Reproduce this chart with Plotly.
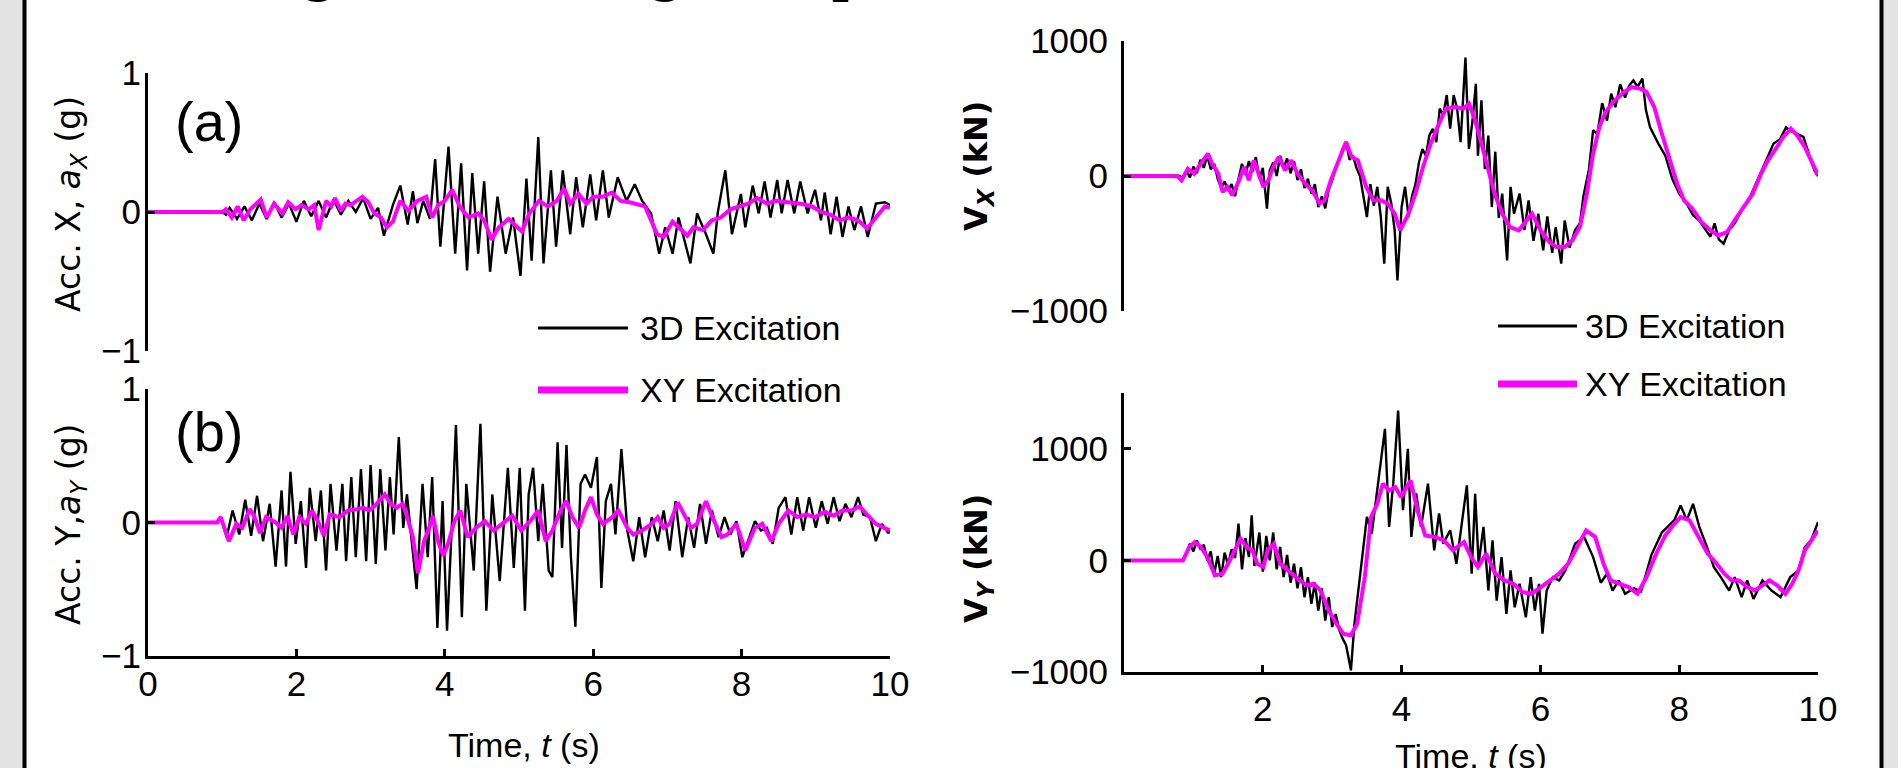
import plotly.graph_objects as go

W, H = 1898, 768

# ---------------- data ----------------
# (time s, acceleration g) – panel (a), X direction
ACC_X_3D = [(0, 0), (1.0, 0), (1.05, -0.02), (1.1, 0.03), (1.2, -0.05), (1.3, 0.04), (1.4, -0.06), (1.5, 0.06),
            (1.6, -0.05), (1.7, 0.07), (1.8, -0.04), (1.9, 0.06), (2.0, -0.07), (2.1, 0.08), (2.2, -0.03),
            (2.3, 0.08), (2.4, -0.04), (2.5, 0.09), (2.6, -0.02), (2.7, 0.08), (2.8, 0.0), (2.9, 0.10),
            (3.0, -0.05), (3.1, 0.03), (3.18, -0.17), (3.3, 0.05), (3.4, 0.19), (3.5, -0.09), (3.57, 0.15),
            (3.63, -0.08), (3.71, 0.08), (3.8, -0.05), (3.87, 0.38), (3.94, -0.25), (4.05, 0.47), (4.14, -0.30),
            (4.22, 0.35), (4.30, -0.42), (4.37, 0.28), (4.45, -0.30), (4.53, 0.22), (4.61, -0.43), (4.71, 0.11),
            (4.82, -0.30), (4.92, -0.04), (5.02, -0.46), (5.10, 0.24), (5.17, -0.35), (5.26, 0.54), (5.33, -0.37),
            (5.43, 0.30), (5.50, -0.25), (5.59, 0.30), (5.69, -0.16), (5.77, 0.25), (5.86, -0.11), (5.96, 0.27),
            (6.04, -0.06), (6.13, 0.30), (6.21, -0.04), (6.33, 0.25), (6.45, 0.08), (6.56, 0.20), (6.66, 0.08),
            (6.78, -0.01), (6.89, -0.30), (6.97, -0.11), (7.07, -0.30), (7.15, -0.04), (7.31, -0.37), (7.40, -0.01),
            (7.52, -0.16), (7.62, -0.30), (7.68, 0.0), (7.78, 0.30), (7.87, -0.16), (7.99, 0.13), (8.05, -0.11),
            (8.15, 0.19), (8.23, -0.01), (8.31, 0.22), (8.39, -0.04), (8.48, 0.23), (8.54, -0.01), (8.62, 0.23),
            (8.71, -0.01), (8.79, 0.22), (8.89, -0.01), (8.99, 0.16), (9.07, -0.06), (9.12, 0.14), (9.20, -0.16),
            (9.28, 0.11), (9.36, -0.18), (9.44, 0.04), (9.52, -0.13), (9.61, 0.04), (9.70, -0.18), (9.81, 0.06),
            (9.93, 0.07), (10.0, 0.05)]

ACC_X_XY = [(0, 0), (1.0, 0), (1.05, 0.02), (1.13, -0.04), (1.21, 0.04), (1.29, -0.06), (1.38, 0.02), (1.52, 0.09),
            (1.60, -0.04), (1.70, 0.06), (1.81, -0.01), (1.89, 0.07), (1.99, 0.02), (2.07, 0.05), (2.17, 0.02),
            (2.24, 0.05), (2.30, -0.13), (2.40, 0.08), (2.47, 0.04), (2.52, 0.10), (2.60, 0.01), (2.66, 0.06),
            (2.73, 0.05), (2.81, 0.08), (2.89, 0.11), (2.97, 0.07), (3.05, -0.01), (3.14, -0.04), (3.22, -0.11),
            (3.30, -0.07), (3.40, 0.08), (3.51, 0.01), (3.63, 0.08), (3.75, 0.11), (3.83, -0.04), (3.91, 0.05),
            (4.00, 0.08), (4.10, 0.16), (4.20, 0.04), (4.32, -0.04), (4.45, -0.01), (4.53, -0.06), (4.63, -0.20),
            (4.73, -0.11), (4.86, -0.05), (4.98, -0.11), (5.04, -0.14), (5.14, -0.01), (5.27, 0.08), (5.39, 0.04),
            (5.51, 0.08), (5.61, 0.17), (5.69, 0.06), (5.80, 0.13), (5.91, 0.06), (6.00, 0.11), (6.13, 0.11),
            (6.25, 0.14), (6.37, 0.08), (6.49, 0.07), (6.58, 0.06), (6.70, 0.04), (6.78, -0.06), (6.86, -0.16),
            (6.95, -0.18), (7.07, -0.07), (7.15, -0.11), (7.27, -0.17), (7.35, -0.11), (7.48, -0.13), (7.60, -0.06),
            (7.72, -0.04), (7.85, 0.02), (7.97, 0.04), (8.09, 0.06), (8.21, 0.10), (8.34, 0.06), (8.46, 0.08),
            (8.62, 0.07), (8.79, 0.06), (8.95, 0.04), (9.07, 0.0), (9.20, -0.02), (9.32, -0.06), (9.44, -0.04),
            (9.57, -0.06), (9.69, -0.12), (9.81, -0.04), (9.93, 0.04), (10.0, 0.03)]

# panel (b), Y direction
ACC_Y_3D = [(0, 0), (0.94, 0), (0.98, 0.04), (1.06, -0.11), (1.14, 0.09), (1.23, -0.09), (1.31, 0.17), (1.39, -0.10),
            (1.47, 0.20), (1.55, -0.14), (1.64, 0.14), (1.72, -0.33), (1.80, 0.24), (1.86, -0.33), (1.92, 0.38),
            (1.99, -0.16), (2.06, 0.16), (2.13, -0.34), (2.18, 0.26), (2.26, -0.14), (2.33, 0.24), (2.40, -0.36),
            (2.46, 0.29), (2.54, -0.21), (2.62, 0.29), (2.67, -0.29), (2.74, 0.34), (2.80, -0.26), (2.87, 0.40),
            (2.94, -0.29), (3.00, 0.43), (3.07, -0.31), (3.13, 0.40), (3.20, -0.21), (3.26, 0.34), (3.31, -0.09),
            (3.38, 0.64), (3.44, -0.04), (3.49, 0.21), (3.56, -0.16), (3.62, -0.50), (3.70, 0.29), (3.77, -0.26),
            (3.83, 0.34), (3.90, -0.79), (3.97, 0.16), (4.03, -0.81), (4.10, 0.04), (4.15, 0.73), (4.23, -0.71),
            (4.29, 0.29), (4.39, -0.36), (4.48, 0.74), (4.56, -0.66), (4.64, 0.21), (4.74, -0.44), (4.85, 0.41),
            (4.93, -0.34), (5.01, 0.41), (5.08, -0.66), (5.13, 0.21), (5.19, 0.41), (5.26, -0.14), (5.32, 0.29),
            (5.40, -0.36), (5.45, -0.41), (5.52, 0.60), (5.58, -0.19), (5.64, 0.58), (5.70, -0.26), (5.76, -0.78),
            (5.83, 0.29), (5.89, 0.36), (5.97, 0.26), (6.05, 0.49), (6.11, -0.49), (6.17, 0.16), (6.24, 0.29),
            (6.30, -0.09), (6.38, 0.55), (6.46, -0.06), (6.54, -0.29), (6.62, 0.04), (6.70, -0.26), (6.79, 0.04),
            (6.87, -0.14), (6.95, 0.09), (7.03, -0.21), (7.11, 0.16), (7.20, -0.26), (7.28, 0.04), (7.36, -0.19),
            (7.44, 0.14), (7.52, -0.16), (7.60, 0.09), (7.69, -0.11), (7.77, 0.04), (7.85, -0.09), (7.93, 0.01),
            (8.01, -0.26), (8.09, -0.14), (8.18, 0.01), (8.26, -0.06), (8.34, -0.04), (8.42, -0.16), (8.50, 0.11),
            (8.59, 0.19), (8.67, -0.09), (8.75, 0.19), (8.83, -0.06), (8.91, 0.19), (9.00, -0.04), (9.08, 0.16),
            (9.16, -0.01), (9.24, 0.19), (9.32, 0.01), (9.40, 0.14), (9.48, 0.04), (9.57, 0.19), (9.64, 0.06),
            (9.73, 0.04), (9.81, -0.14), (9.89, -0.01), (9.98, -0.08), (10.0, -0.05)]

ACC_Y_XY = [(0, 0), (0.93, 0), (0.98, 0.04), (1.09, -0.14), (1.19, -0.01), (1.27, -0.04), (1.37, 0.10), (1.43, 0.05),
            (1.51, -0.08), (1.59, 0.04), (1.72, 0.0), (1.80, -0.04), (1.88, 0.05), (1.96, -0.09), (2.04, 0.04),
            (2.13, -0.01), (2.21, 0.09), (2.29, 0.01), (2.37, -0.10), (2.45, 0.06), (2.58, 0.04), (2.70, 0.09),
            (2.82, 0.10), (2.90, 0.11), (2.98, 0.09), (3.07, 0.13), (3.19, 0.21), (3.27, 0.14), (3.35, 0.11),
            (3.43, 0.14), (3.49, 0.05), (3.57, -0.11), (3.64, -0.38), (3.72, -0.14), (3.79, -0.04), (3.84, 0.05),
            (3.91, -0.14), (3.98, -0.25), (4.05, -0.15), (4.13, 0.01), (4.21, 0.09), (4.31, -0.11), (4.42, -0.04),
            (4.54, 0.01), (4.66, -0.06), (4.78, -0.01), (4.91, 0.05), (5.03, -0.06), (5.15, 0.01), (5.26, 0.09),
            (5.36, -0.14), (5.45, -0.06), (5.56, 0.09), (5.64, 0.16), (5.72, 0.04), (5.81, -0.04), (5.89, 0.09),
            (5.97, 0.19), (6.05, 0.06), (6.13, -0.01), (6.26, 0.04), (6.34, 0.09), (6.46, -0.04), (6.54, -0.09),
            (6.66, -0.06), (6.79, -0.01), (6.87, 0.04), (6.95, -0.04), (7.03, -0.01), (7.14, 0.15), (7.24, 0.04),
            (7.32, -0.04), (7.40, -0.01), (7.52, 0.16), (7.63, 0.01), (7.73, -0.11), (7.81, -0.09), (7.93, -0.01),
            (8.05, -0.21), (8.18, -0.04), (8.28, -0.01), (8.40, -0.14), (8.50, -0.01), (8.63, 0.09), (8.75, 0.04),
            (8.87, 0.06), (8.99, 0.04), (9.12, 0.08), (9.24, 0.05), (9.36, 0.09), (9.48, 0.09), (9.59, 0.12),
            (9.69, 0.06), (9.81, -0.01), (9.92, -0.04), (10.0, -0.06)]

# (time s, base shear kN)
VX_3D = [(0, 0), (0.8, 0), (0.85, -20), (0.9, 40), (0.95, -10), (1.0, 70), (1.05, 20), (1.1, 120), (1.15, 60),
         (1.2, 150), (1.25, 50), (1.3, 90), (1.35, -20), (1.4, -90), (1.45, -40), (1.5, -110), (1.55, -60),
         (1.6, -150), (1.65, -20), (1.7, 90), (1.75, 10), (1.8, 110), (1.85, 30), (1.9, 140), (1.95, -20),
         (2.0, 60), (2.06, -242), (2.1, 40), (2.15, 100), (2.2, 0), (2.25, 150), (2.3, 60), (2.35, 130), (2.4, 20),
         (2.45, 110), (2.5, -30), (2.55, 50), (2.6, -90), (2.65, -20), (2.7, -130), (2.75, -60), (2.8, -230),
         (2.85, -150), (2.9, -240), (2.95, -100), (3.0, -30), (3.05, 60), (3.1, 120), (3.15, 200), (3.2, 250),
         (3.25, 120), (3.3, 150), (3.35, 60), (3.4, 0), (3.45, -150), (3.5, -304), (3.55, -60), (3.6, -220),
         (3.65, -80), (3.7, -300), (3.75, -649), (3.8, -80), (3.85, -200), (3.9, -400), (3.94, -773), (4.0, -230),
         (4.05, -80), (4.1, -300), (4.15, -150), (4.2, -60), (4.25, 100), (4.3, 200), (4.35, 150), (4.4, 300),
         (4.45, 350), (4.5, 250), (4.55, 500), (4.6, 450), (4.65, 600), (4.7, 350), (4.75, 600), (4.8, 500),
         (4.85, 250), (4.92, 877), (4.97, 200), (5.02, 400), (5.07, 684), (5.1, 150), (5.15, 560), (5.2, 50),
         (5.25, 300), (5.3, -230), (5.35, 180), (5.4, -310), (5.45, -130), (5.52, -625), (5.57, -80), (5.62, -280),
         (5.7, -130), (5.77, -400), (5.83, -180), (5.9, -480), (5.97, -280), (6.04, -550), (6.1, -300), (6.17, -570),
         (6.22, -380), (6.3, -649), (6.35, -330), (6.42, -530), (6.5, -400), (6.57, -350), (6.62, -150), (6.7, 50),
         (6.76, 340), (6.82, 310), (6.89, 540), (6.96, 410), (7.02, 610), (7.08, 510), (7.15, 680), (7.22, 580),
         (7.28, 670), (7.34, 709), (7.4, 660), (7.47, 721), (7.52, 490), (7.58, 360), (7.7, 240), (7.8, 150),
         (7.9, -20), (8.0, -130), (8.1, -200), (8.2, -290), (8.29, -330), (8.38, -400), (8.45, -450), (8.51, -350),
         (8.57, -470), (8.64, -501), (8.72, -400), (8.8, -350), (8.9, -250), (9.0, -180), (9.1, -60), (9.2, 60),
         (9.3, 170), (9.36, 240), (9.45, 270), (9.54, 360), (9.62, 330), (9.7, 310), (9.79, 290), (9.87, 160),
         (9.95, 40), (10.0, 0)]

VX_XY = [(0, 0), (0.77, 0), (0.83, -32), (0.92, 54), (1.01, 17), (1.07, 67), (1.14, 116), (1.21, 165), (1.27, 91),
         (1.36, 17), (1.42, -119), (1.49, -81), (1.56, -143), (1.65, -44), (1.73, 67), (1.80, -32), (1.87, 116),
         (1.94, 17), (2.01, -81), (2.08, -32), (2.15, 67), (2.23, 141), (2.32, 42), (2.41, 116), (2.50, 17),
         (2.61, -57), (2.71, -106), (2.82, -205), (2.89, -180), (2.98, -32), (3.08, 91), (3.20, 252), (3.28, 140),
         (3.37, 116), (3.49, -81), (3.59, -180), (3.70, -180), (3.80, -205), (3.90, -279), (3.98, -402),
         (4.10, -279), (4.20, -131), (4.31, 67), (4.42, 240), (4.54, 388), (4.64, 499), (4.77, 511), (4.89, 499),
         (4.97, 536), (5.06, 412), (5.15, 240), (5.25, 42), (5.34, -131), (5.45, -279), (5.56, -378), (5.69, -402),
         (5.80, -328), (5.88, -279), (6.00, -402), (6.13, -489), (6.23, -526), (6.35, -526), (6.46, -477),
         (6.57, -378), (6.67, -131), (6.76, 165), (6.85, 363), (6.94, 474), (7.05, 548), (7.18, 610), (7.31, 659),
         (7.44, 647), (7.53, 622), (7.64, 511), (7.75, 314), (7.86, 116), (7.97, -57), (8.07, -180), (8.19, -242),
         (8.32, -340), (8.45, -402), (8.56, -440), (8.69, -415), (8.80, -328), (8.93, -230), (9.06, -131),
         (9.18, 17), (9.28, 116), (9.41, 215), (9.50, 289), (9.61, 351), (9.70, 301), (9.81, 215), (9.89, 128),
         (10.0, 5)]

VY_3D = [(0, 0), (0.85, 0), (0.9, 60), (0.95, 150), (1.0, 80), (1.05, 180), (1.1, 100), (1.15, 140), (1.2, 0),
         (1.25, 80), (1.3, -120), (1.35, 40), (1.4, -150), (1.45, 70), (1.5, -40), (1.55, 100), (1.6, 20),
         (1.65, 330), (1.7, -80), (1.75, 200), (1.8, 30), (1.84, 403), (1.88, -50), (1.95, 250), (2.0, -100),
         (2.05, 220), (2.1, 0), (2.15, 250), (2.2, -80), (2.25, 120), (2.3, -150), (2.35, 50), (2.4, -200),
         (2.45, -30), (2.5, -250), (2.55, -60), (2.6, -330), (2.65, -150), (2.7, -390), (2.75, -200), (2.8, -450),
         (2.85, -250), (2.9, -540), (2.95, -330), (3.0, -597), (3.05, -480), (3.1, -620), (3.15, -700),
         (3.2, -760), (3.27, -985), (3.32, -570), (3.42, -30), (3.5, 390), (3.57, 240), (3.66, 690), (3.76, 1179),
         (3.82, 300), (3.88, 690), (3.95, 1343), (4.02, 450), (4.09, 1000), (4.14, 210), (4.21, 600), (4.28, 300),
         (4.38, 687), (4.47, 90), (4.54, 420), (4.6, 150), (4.7, 270), (4.79, -30), (4.88, 390), (4.94, 672),
         (5.01, -120), (5.06, 597), (5.11, -30), (5.18, 300), (5.25, -270), (5.31, 180), (5.37, -360), (5.44, 30),
         (5.51, -480), (5.57, -90), (5.63, -420), (5.7, -210), (5.79, -510), (5.86, -150), (5.92, -450),
         (5.98, -210), (6.03, -657), (6.09, -270), (6.18, -150), (6.27, -180), (6.36, -90), (6.5, 150),
         (6.63, 210), (6.76, 30), (6.87, -200), (6.96, -120), (7.04, -270), (7.13, -180), (7.22, -300),
         (7.35, -250), (7.45, -280), (7.6, 50), (7.75, 250), (7.93, 360), (8.02, 493), (8.11, 360), (8.2, 507),
         (8.29, 300), (8.4, 120), (8.5, -60), (8.6, -150), (8.72, -270), (8.8, -150), (8.9, -330), (8.98, -180),
         (9.07, -345), (9.2, -180), (9.33, -270), (9.46, -330), (9.6, -150), (9.72, -90), (9.81, 120), (9.9, 180),
         (10.0, 343)]

VY_XY = [(0, 0), (0.85, 0), (0.94, 119), (1.02, 164), (1.11, 119), (1.20, 30), (1.31, -134), (1.42, -119),
         (1.50, -30), (1.59, 90), (1.68, 194), (1.77, 119), (1.85, 90), (1.92, -30), (2.01, -60), (2.07, 90),
         (2.16, 149), (2.25, -30), (2.33, -75), (2.42, -119), (2.53, -179), (2.64, -224), (2.73, -209),
         (2.83, -269), (2.95, -448), (3.06, -567), (3.16, -657), (3.27, -672), (3.36, -567), (3.47, -149),
         (3.56, 388), (3.65, 507), (3.73, 687), (3.82, 627), (3.91, 657), (3.99, 567), (4.13, 716), (4.23, 448),
         (4.34, 224), (4.48, 209), (4.61, 179), (4.74, 90), (4.90, 164), (5.00, 30), (5.10, -60), (5.22, 60),
         (5.35, -119), (5.48, -179), (5.61, -209), (5.74, -284), (5.87, -299), (6.01, -239), (6.14, -179),
         (6.27, -119), (6.40, -30), (6.53, 119), (6.66, 269), (6.79, 209), (6.91, -30), (7.01, -179), (7.14, -209),
         (7.27, -239), (7.40, -299), (7.53, -149), (7.67, 60), (7.80, 224), (7.93, 328), (8.02, 388), (8.15, 358),
         (8.28, 209), (8.41, 60), (8.54, -30), (8.65, -119), (8.76, -179), (8.86, -179), (8.98, -239),
         (9.09, -269), (9.20, -224), (9.30, -179), (9.41, -224), (9.53, -299), (9.63, -209), (9.72, -90),
         (9.81, 90), (9.90, 179), (10.0, 269)]

ACC_TICKS = [-1, 0, 1]
ACC_TICKTEXT = ["\u22121", "0", "1"]
TIME_TICKS_LEFT = [0, 2, 4, 6, 8, 10]
TIME_TICKS_RIGHT = [2, 4, 6, 8, 10]
SHEAR_TICKS = [-1000, 0, 1000]
SHEAR_TICKTEXT = ["\u22121000", "0", "1000"]
SERIES_NAMES = ["3D Excitation", "XY Excitation"]

# ---------------- style ----------------
BLACK = "#000000"
MAGENTA = "#ff00ff"
SANS = "Liberation Sans, Arial, Helvetica, sans-serif"
DEJAVU = "DejaVu Sans, Liberation Sans, sans-serif"
SERIF = "Liberation Serif, DejaVu Serif, serif"


def px(x):
    return x / W


def py(y):
    return 1 - y / H


fig = go.Figure()

panels = [
    ("x", "y", ACC_X_3D, ACC_X_XY),
    ("x2", "y2", ACC_Y_3D, ACC_Y_XY),
    ("x3", "y3", VX_3D, VX_XY),
    ("x4", "y4", VY_3D, VY_XY),
]
for xa, ya, black, mag in panels:
    t, v = zip(*black)
    fig.add_trace(go.Scatter(x=t, y=v, xaxis=xa, yaxis=ya, mode="lines", name=SERIES_NAMES[0],
                             line=dict(color=BLACK, width=2.4), showlegend=False, hoverinfo="skip"))
    t, v = zip(*mag)
    fig.add_trace(go.Scatter(x=t, y=v, xaxis=xa, yaxis=ya, mode="lines", name=SERIES_NAMES[1],
                             line=dict(color=MAGENTA, width=4), showlegend=False, hoverinfo="skip"))

tickfont = dict(family=SANS, size=35, color="black")
common_axis = dict(showgrid=False, zeroline=False, linecolor="black", linewidth=3,
                   ticks="inside", ticklen=7, tickwidth=3, tickcolor="black", tickfont=tickfont)
hidden_x = dict(showgrid=False, zeroline=False, showline=False, showticklabels=False, ticks="")

LEFT_X = [px(148), px(890)]
RIGHT_X = [px(1124), px(1818)]

fig.update_layout(
    width=W, height=H,
    margin=dict(l=0, r=0, t=0, b=0, pad=0, autoexpand=False),
    paper_bgcolor="#e3e3e3",
    plot_bgcolor="rgba(0,0,0,0)",
    showlegend=False,
    # panel (a)
    xaxis=dict(domain=LEFT_X, range=[0, 10], anchor="y", **hidden_x),
    yaxis=dict(domain=[py(351), py(73)], range=[-1, 1], anchor="x", tickvals=ACC_TICKS,
               ticktext=ACC_TICKTEXT, ticklabelstandoff=-3, **common_axis),
    # panel (b)
    xaxis2=dict(domain=LEFT_X, range=[0, 10], anchor="y2", tickvals=TIME_TICKS_LEFT,
                ticklabelstandoff=-5, **common_axis),
    yaxis2=dict(domain=[py(656), py(389)], range=[-1, 1], anchor="x2", tickvals=ACC_TICKS,
                ticktext=ACC_TICKTEXT, ticklabelstandoff=-3, **common_axis),
    # V_X
    xaxis3=dict(domain=RIGHT_X, range=[0, 10], anchor="y3", **hidden_x),
    yaxis3=dict(domain=[py(311), py(41)], range=[-1000, 1000], anchor="x3", tickvals=SHEAR_TICKS,
                ticktext=SHEAR_TICKTEXT, ticklabelstandoff=6, **common_axis),
    # V_Y
    xaxis4=dict(domain=RIGHT_X, range=[0, 10], anchor="y4", tickvals=TIME_TICKS_RIGHT,
                ticklabelstandoff=4, **common_axis),
    yaxis4=dict(domain=[py(672), py(393)], range=[-1000, 1500], anchor="x4", tickvals=SHEAR_TICKS,
                ticktext=SHEAR_TICKTEXT, ticklabelstandoff=6, **common_axis),
)

# slide panel: white sheet with black side rules
shapes = [
    dict(type="rect", xref="paper", yref="paper", x0=px(25), x1=px(1882), y0=-0.01, y1=1.01,
         fillcolor="white", line=dict(width=0), layer="below"),
    dict(type="line", xref="paper", yref="paper", x0=px(24.5), x1=px(24.5), y0=-0.01, y1=1.01,
         line=dict(color="black", width=4), layer="below"),
    dict(type="line", xref="paper", yref="paper", x0=px(1881.5), x1=px(1881.5), y0=-0.01, y1=1.01,
         line=dict(color="black", width=4), layer="below"),
]

# hand-drawn legends (two copies, as in the figure)
legend_rows = [
    # (x0, x1, y, text_x, colour, width, label)
    (538, 628, 328, 638, BLACK, 3, SERIES_NAMES[0]),
    (538, 628, 390, 638, MAGENTA, 7, SERIES_NAMES[1]),
    (1498, 1577, 326, 1583, BLACK, 3, SERIES_NAMES[0]),
    (1498, 1577, 384, 1583, MAGENTA, 7, SERIES_NAMES[1]),
]
annotations = []
for x0, x1, yy, tx, col, wd, label in legend_rows:
    shapes.append(dict(type="line", xref="paper", yref="paper", x0=px(x0), x1=px(x1), y0=py(yy), y1=py(yy),
                       line=dict(color=col, width=wd)))
    annotations.append(dict(text=label, xref="paper", yref="paper", x=px(tx), y=py(yy), xanchor="left",
                            yanchor="middle", showarrow=False, font=dict(family=SANS, size=34, color="black")))

# panel letters
for txt, xx, yy in [("(a)", 209, 121), ("(b)", 209, 431)]:
    annotations.append(dict(text=txt, xref="paper", yref="paper", x=px(xx), y=py(yy), xanchor="center",
                            yanchor="middle", showarrow=False, font=dict(family=SANS, size=56, color="black")))

# axis titles
axis_titles = [
    ("Acc. X, <i>a</i><sub><i>X</i></sub> (g)", 70, 204, DEJAVU, 33, "normal"),
    ("Acc. Y,<i>a</i><sub><i>Y</i></sub> (g)", 70, 525, DEJAVU, 33, "normal"),
    ("V<sub><i>X</i></sub> (kN)", 978, 166, DEJAVU, 32, "bold"),
    ("V<sub><i>Y</i></sub> (kN)", 978, 559, DEJAVU, 32, "bold"),
]
for txt, xx, yy, fam, size, weight in axis_titles:
    annotations.append(dict(text=txt, xref="paper", yref="paper", x=px(xx), y=py(yy), xanchor="center",
                            yanchor="middle", textangle=-90, showarrow=False,
                            font=dict(family=fam, size=size, color="black", weight=weight)))
for xx, yy in [(524, 745), (1471, 756)]:
    annotations.append(dict(text="Time, <i>t</i> (s)", xref="paper", yref="paper", x=px(xx), y=py(yy),
                            xanchor="center", yanchor="middle", showarrow=False,
                            font=dict(family=SANS, size=34, color="black")))

# the slide title above is cut off: only descenders of its letters remain visible
for ch, xx in [("g", 318), ("g", 665), ("p", 848)]:
    annotations.append(dict(text=ch, xref="paper", yref="paper", x=px(xx), y=py(-31), xanchor="center",
                            yanchor="middle", showarrow=False,
                            font=dict(family=SERIF, size=60, color="black", weight="bold")))

fig.update_layout(shapes=shapes, annotations=annotations)

fig.write_html("out.html", config={"displayModeBar": False},
               post_script="document.body.style.margin='0';document.body.style.overflow='hidden';")
